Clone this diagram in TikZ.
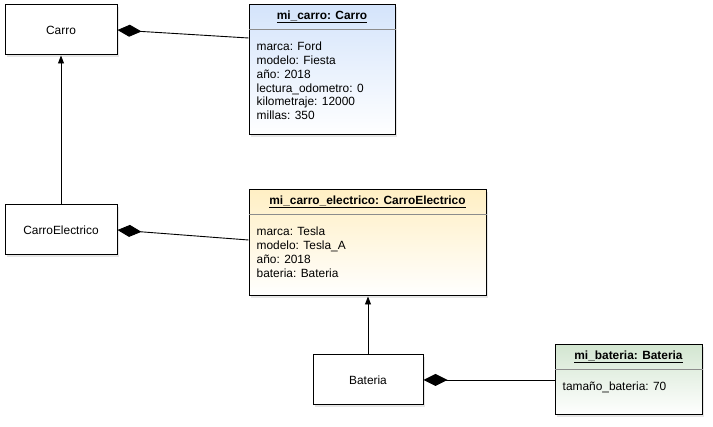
\documentclass[tikz,border=0pt]{standalone}
\usepackage{fontspec}
\setmainfont{Liberation Sans}
\usepackage{tikz}
\usetikzlibrary{arrows.meta}
\usetikzlibrary{positioning}
\usetikzlibrary{shadows}
\definecolor{objblue}{HTML}{D4E4FB}
\definecolor{objyellow}{HTML}{FFEFC4}
\definecolor{objgreen}{HTML}{D3E6D1}

\begin{document}
\begin{tikzpicture}[
    x=1pt, y=-1pt,
    font=\fontsize{11.9}{13.9}\selectfont,
    shade/.style={%
      drop shadow={shadow xshift=2pt, shadow yshift=-2pt, opacity=0.2},
    },
    cls/.style={%
      draw,
      rectangle,
      line width=1pt,
      fill=white,
      shade,
      minimum height=50pt,
    },
    obj/.style={%
      draw,
      rectangle,
      line width=1pt,
      shade,
      bottom color=white,
    },
    title/.style={%
      font=\fontsize{11.9}{13.9}\selectfont\bfseries,
      inner sep=0pt,
    },
    attr/.style={%
      anchor=north west,
      align=left,
      inner sep=0pt,
    },
    divider/.style={%
      draw=black!45,
      line width=0.8pt,
    },
    comp/.style={%
      line width=0.9pt,
      -{Diamond[length=24pt,width=12pt]},
    },
    inh/.style={%
      line width=0.9pt,
      -{Triangle[length=8pt,width=6pt]},
    },
  ]

    \useasboundingbox (0,0) rectangle (713,427);

    \node [cls, minimum width=112pt] (carro) at (61,30) {Carro};
    \node [cls, minimum width=112pt] (carroE) at (61,230) {CarroElectrico};
    \node [cls, minimum width=110pt] (bateria) at (368,380) {Bateria};

    \node [obj, top color=objblue, minimum width=146pt, minimum height=130pt] (micarro) at (322,70) {};
    \path (micarro.north) ++(0,12.5) node [title] (micarroT) {\underline{mi\_carro: Carro}};
    \path (micarro.north west) ++(0,25) coordinate (micarroA);
    \draw [divider] (micarroA) -- (micarroA -| micarro.east);
    \path (micarro.north west) ++(8,37) node [attr] (micarroB) {marca: Ford\\modelo: Fiesta\\año: 2018\\lectura\_odometro: 0\\kilometraje: 12000\\millas: 350};

    \node [obj, top color=objyellow, minimum width=237pt, minimum height=106pt] (micarroE) at (367.5,243) {};
    \path (micarroE.north) ++(0,12.5) node [title] (micarroET) {\underline{mi\_carro\_electrico: CarroElectrico}};
    \path (micarroE.north west) ++(0,25) coordinate (micarroEA);
    \draw [divider] (micarroEA) -- (micarroEA -| micarroE.east);
    \path (micarroE.north west) ++(8,37) node [attr] (micarroEB) {marca: Tesla\\modelo: Tesla\_A\\año: 2018\\bateria: Bateria};

    \node [obj, top color=objgreen, minimum width=147pt, minimum height=70pt] (mibateria) at (628.5,380) {};
    \path (mibateria.north) ++(0,12.5) node [title] (mibateriaT) {\underline{mi\_bateria: Bateria}};
    \path (mibateria.north west) ++(0,25) coordinate (mibateriaA);
    \draw [divider] (mibateriaA) -- (mibateriaA -| mibateria.east);
    \path (mibateria.north west) ++(8,37) node [attr] (mibateriaB) {tamaño\_bateria: 70};

    \draw [comp] ([yshift=32pt]micarro.west) -- (carro.east);
    \draw [comp] ([yshift=3pt]micarroE.west) -- (carroE.east);
    \draw [comp] (mibateria.west) -- (bateria.east);

    \draw [inh] (carroE) -- (carro);
    \draw [inh] (bateria) -- (bateria |- micarroE.south);
\end{tikzpicture}
\end{document}
